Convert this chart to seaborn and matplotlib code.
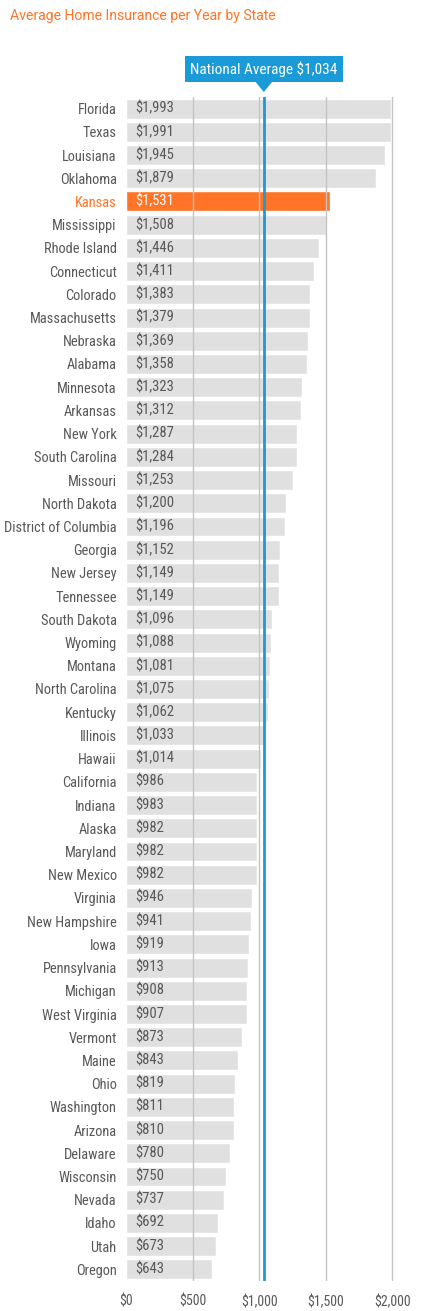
import matplotlib
matplotlib.use("Agg")
import matplotlib.pyplot as plt
import matplotlib.transforms as mtransforms
from matplotlib.patches import Polygon
import seaborn as sns

states = ["Florida", "Texas", "Louisiana", "Oklahoma", "Kansas", "Mississippi",
          "Rhode Island", "Connecticut", "Colorado", "Massachusetts", "Nebraska",
          "Alabama", "Minnesota", "Arkansas", "New York", "South Carolina",
          "Missouri", "North Dakota", "District of Columbia", "Georgia",
          "New Jersey", "Tennessee", "South Dakota", "Wyoming", "Montana",
          "North Carolina", "Kentucky", "Illinois", "Hawaii", "California",
          "Indiana", "Alaska", "Maryland", "New Mexico", "Virginia",
          "New Hampshire", "Iowa", "Pennsylvania", "Michigan", "West Virginia",
          "Vermont", "Maine", "Ohio", "Washington", "Arizona", "Delaware",
          "Wisconsin", "Nevada", "Idaho", "Utah", "Oregon"]
premiums = [1993, 1991, 1945, 1879, 1531, 1508, 1446, 1411, 1383, 1379, 1369,
            1358, 1323, 1312, 1287, 1284, 1253, 1200, 1196, 1152, 1149, 1149,
            1096, 1088, 1081, 1075, 1062, 1033, 1014, 986, 983, 982, 982, 982,
            946, 941, 919, 913, 908, 907, 873, 843, 819, 811, 810, 780, 750,
            737, 692, 673, 643]
national_avg = 1034
highlight = "Kansas"
x_ticks = [0, 500, 1000, 1500, 2000]

ORANGE = "#FF7426"
GRAY_BAR = "#E0E0E0"
BLUE = "#1A9BD7"
TEXT = "#595959"

sns.set_style("white")
plt.rcParams["font.family"] = ["Roboto Condensed", "Roboto", "DejaVu Sans"]
plt.rcParams["font.stretch"] = "condensed"

fig = plt.figure(figsize=(4.39, 13.11), dpi=100)
ax = fig.add_axes([0.288, 0.0229, 0.616, 0.9031])

palette = {s: (ORANGE if s == highlight else GRAY_BAR) for s in states}
sns.barplot(x=premiums, y=states, hue=states, palette=palette, legend=False,
            orient="h", width=0.86, ax=ax, zorder=2, saturation=1)

ax.set_xlim(0, 2035)
ax.set_ylim(len(states) - 0.5, -0.5)
# gridlines sit on top of the bars
for t in x_ticks[1:]:
    ax.axvline(t, color="#C4C4C4", lw=1, zorder=3)
ax.axvline(national_avg, color=BLUE, lw=2, zorder=4)

for i, (s, v) in enumerate(zip(states, premiums)):
    ax.text(65, i, f"${v:,}", va="center", ha="left", fontsize=10.5,
            color="white" if s == highlight else TEXT, zorder=5)

ax.set_xticks(x_ticks)
ax.set_xticklabels([f"${t:,}" for t in x_ticks], fontsize=10, color=TEXT)
ax.tick_params(axis="x", length=0, pad=10)
ax.tick_params(axis="y", length=0, pad=7, labelsize=10.4, labelcolor=TEXT)
for lab in ax.get_yticklabels():
    if lab.get_text() == highlight:
        lab.set_color(ORANGE)
ax.set_xlabel("")
ax.set_ylabel("")
sns.despine(ax=ax, left=True, bottom=True)

# National average callout
trans = mtransforms.blended_transform_factory(ax.transData, ax.transAxes)
ax.text(national_avg, 1.0236, f"National Average ${national_avg:,}",
        transform=trans, ha="center", va="center", fontsize=11, color="white",
        bbox=dict(boxstyle="square,pad=0.36", fc=BLUE, ec="none"),
        clip_on=False, zorder=6)
ax.add_patch(Polygon([[national_avg - 70, 1.0138], [national_avg + 70, 1.0138],
                      [national_avg, 1.0042]], closed=True, transform=trans,
                     fc=BLUE, ec="none", clip_on=False, zorder=6))

fig.text(0.0228, 0.9878, "Average Home Insurance per Year by State",
         fontsize=10.1, color=ORANGE, ha="left", va="center",
         family=["Roboto", "DejaVu Sans"], stretch="normal")

fig.savefig("out.png", dpi=100)
